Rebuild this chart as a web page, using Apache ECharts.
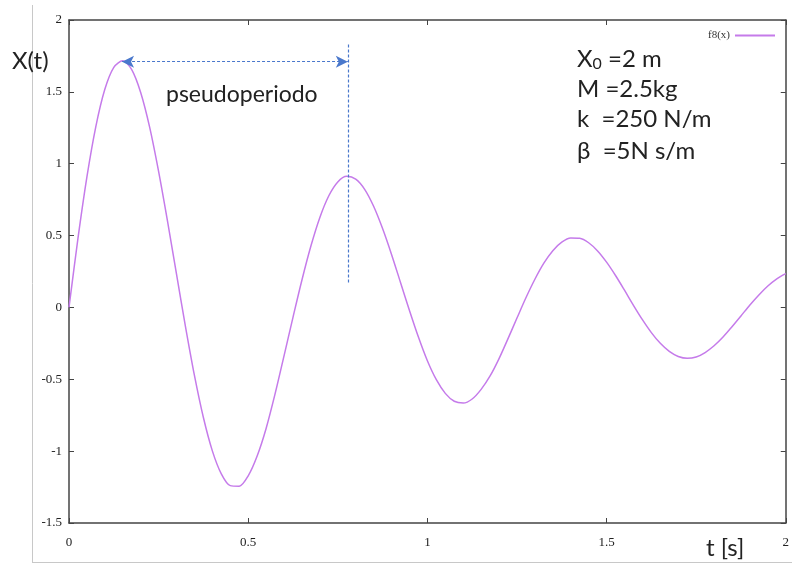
<!DOCTYPE html>
<html>
<head>
<meta charset="utf-8">
<script src="https://cdn.jsdelivr.net/npm/echarts@6/dist/echarts.min.js"></script>
<style>html,body{margin:0;padding:0;background:#fff}#c{width:792px;height:571px}</style>
</head>
<body>
<div id="c"></div>
<script>
// Time samples (s) and displacement X(t)
var tValues = [0,0.025,0.05,0.075,0.1,0.125,0.15,0.175,0.2,0.225,0.25,0.275,0.3,0.325,0.35,0.375,0.4,0.425,0.45,0.475,0.5,0.525,0.55,0.575,0.6,0.625,0.65,0.675,0.7,0.725,0.75,0.775,0.8,0.825,0.85,0.875,0.9,0.925,0.95,0.975,1.0,1.025,1.05,1.075,1.1,1.125,1.15,1.175,1.2,1.225,1.25,1.275,1.3,1.325,1.35,1.375,1.4,1.425,1.45,1.475,1.5,1.525,1.55,1.575,1.6,1.625,1.65,1.675,1.7,1.725,1.75,1.775,1.8,1.825,1.85,1.875,1.9,1.925,1.95,1.975,2.0];
var xValues = [0,0.480,0.908,1.260,1.518,1.671,1.716,1.655,1.496,1.255,0.947,0.599,0.231,-0.133,-0.473,-0.766,-0.998,-1.158,-1.240,-1.244,-1.172,-1.034,-0.842,-0.602,-0.337,-0.069,0.191,0.427,0.626,0.777,0.873,0.912,0.893,0.822,0.704,0.549,0.369,0.174,-0.021,-0.206,-0.371,-0.503,-0.598,-0.653,-0.665,-0.637,-0.570,-0.477,-0.356,-0.217,-0.074,0.067,0.196,0.308,0.395,0.454,0.483,0.481,0.450,0.393,0.315,0.222,0.120,0.015,-0.085,-0.175,-0.250,-0.306,-0.341,-0.354,-0.345,-0.314,-0.267,-0.206,-0.134,-0.059,0.017,0.087,0.149,0.199,0.235];
var seriesName = 'f8(x)';
// Annotation: pseudoperiod arrow between first two maxima
var arrowStart = [0.148, 1.71];
var arrowEnd = [0.778, 1.71];
var vlineTop = [0.778, 1.83];
var vlineBottom = [0.778, 0.17];
var paramLabels = ['X{sub|0} =2 m', 'M =2.5kg', 'k  =250 N/m', 'β  =5N s/m'];

var data = tValues.map(function(t, i){ return [t, xValues[i]]; });
var chart = echarts.init(document.getElementById('c'), null, {renderer:'canvas'});
var tickFont = {fontFamily:'Liberation Serif', fontSize:13, color:'#222'};
var lineCol = '#C57BEA';
var blue = '#4A78CC';
var sans = 'Lato';
var frameLine = {show:true, onZero:false, lineStyle:{color:'#444', width:1.5}};
var frameTick = {show:true, inside:true, length:5, lineStyle:{color:'#444'}};
var option = {
  animation:false,
  backgroundColor:'#fff',
  grid:{left:69, right:4, top:20, bottom:48, show:false},
  legend:{
    data:[seriesName], right:17, top:30, align:'right', itemWidth:40, itemHeight:2, icon:'rect',
    itemGap:6, textStyle:{fontFamily:'Liberation Serif', fontSize:11, color:'#333'}, padding:0
  },
  xAxis:[{
    type:'value', min:0, max:2, interval:0.5,
    axisLine:frameLine, axisTick:frameTick,
    axisLabel:Object.assign({margin:13, formatter:function(v){return String(v);}}, tickFont),
    splitLine:{show:false}
  },{
    type:'value', min:0, max:2, interval:0.5, position:'top',
    axisLine:frameLine, axisTick:frameTick,
    axisLabel:{show:false}, splitLine:{show:false}
  }],
  yAxis:[{
    type:'value', min:-1.5, max:2, interval:0.5,
    axisLine:frameLine, axisTick:frameTick,
    axisLabel:Object.assign({margin:7, formatter:function(v){return String(v);}}, tickFont),
    splitLine:{show:false}
  },{
    type:'value', min:-1.5, max:2, interval:0.5, position:'right',
    axisLine:frameLine, axisTick:frameTick,
    axisLabel:{show:false}, splitLine:{show:false}
  }],
  series:[{
    name:seriesName, type:'line', data:data, smooth:0.3, showSymbol:false,
    lineStyle:{color:lineCol, width:1.5}, itemStyle:{color:lineCol},
    markLine:{
      silent:true, label:{show:false},
      data:[
        [{coord:arrowStart, symbol:'arrow', symbolSize:[9,12]}, {coord:arrowEnd, symbol:'arrow', symbolSize:[9,12]}],
        [{coord:vlineTop, symbol:'none'}, {coord:vlineBottom, symbol:'none'}]
      ],
      lineStyle:{color:blue, type:[3,2], width:1.2}
    }
  }],
  graphic:[
    {type:'line', shape:{x1:32.5, y1:5, x2:32.5, y2:562}, style:{stroke:'#c8c8c8', lineWidth:1}},
    {type:'line', shape:{x1:32, y1:562.5, x2:792, y2:562.5}, style:{stroke:'#c8c8c8', lineWidth:1}},
    {type:'text', left:12, top:49, style:{text:'X(t)', font:'24px '+sans, fill:'#222'}},
    {type:'text', left:706, top:536, style:{text:'t [s]', font:'24px '+sans, fill:'#222'}},
    {type:'text', left:166, top:83, style:{text:'pseudoperiodo', font:'23px '+sans, fill:'#222'}},
    {type:'text', left:577, top:47, style:{text:paramLabels[0], rich:{sub:{fontSize:16, fontFamily:sans, fill:'#222', verticalAlign:'bottom', padding:[9,0,0,0]}}, font:'24px '+sans, fill:'#222'}},
    {type:'text', left:577, top:77, style:{text:paramLabels[1], font:'24px '+sans, fill:'#222'}},
    {type:'text', left:577, top:107, style:{text:paramLabels[2], font:'24px '+sans, fill:'#222'}},
    {type:'text', left:577, top:139, style:{text:paramLabels[3], font:'24px '+sans, fill:'#222'}}
  ]
};
chart.setOption(option);
</script>
</body>
</html>
